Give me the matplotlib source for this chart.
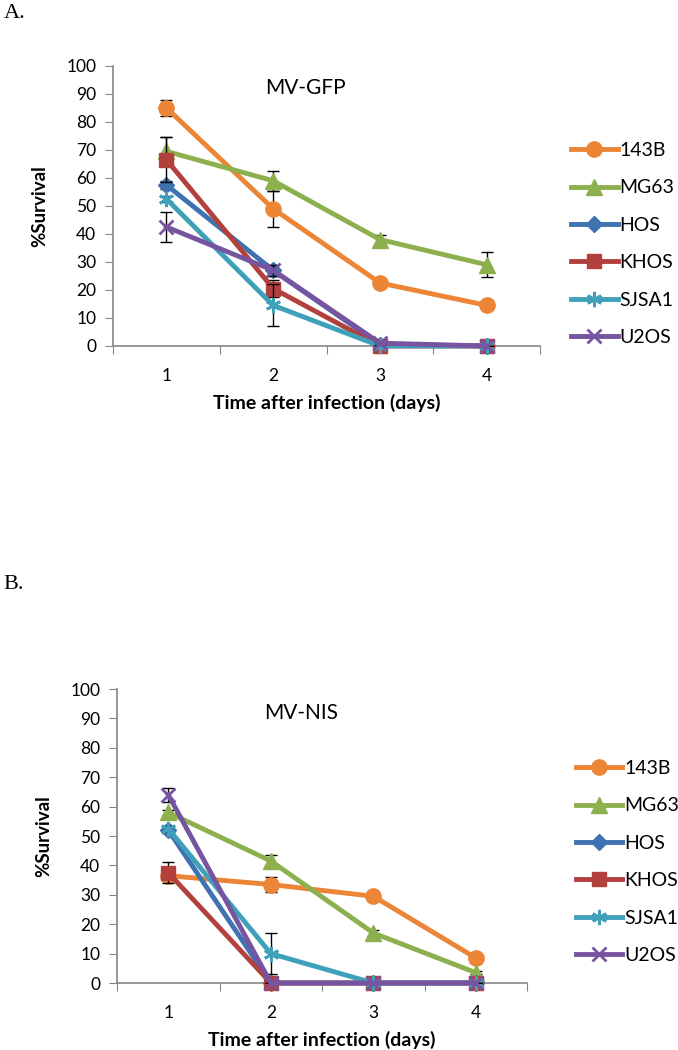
import matplotlib.pyplot as plt

plt.rcParams['font.family'] = ['Lato', 'DejaVu Sans']

days = [1, 2, 3, 4]
lines = ["143B", "MG63", "HOS", "KHOS", "SJSA1", "U2OS"]

# MV-GFP (panel A)
gfp_vals = {
    "143B": [85, 49, 22.5, 14.5],
    "MG63": [69.5, 59, 38, 29],
    "HOS": [57.5, 27, 0.5, 0],
    "KHOS": [66.5, 20.5, 0, 0],
    "SJSA1": [52.5, 14.5, 0, 0],
    "U2OS": [42.5, 27, 1, 0],
}
gfp_err = {
    "143B": [3, 6.5, 0.5, 0.5],
    "MG63": [5, 3.5, 1.5, 4.5],
    "HOS": [1.5, 2, 0.3, 0],
    "KHOS": [8, 3, 0, 0],
    "SJSA1": [1, 7.5, 0, 0],
    "U2OS": [5.5, 2, 0.5, 0],
}

# MV-NIS (panel B)
nis_vals = {
    "143B": [36.5, 33.5, 29.5, 8.5],
    "MG63": [58, 41.5, 17, 3.5],
    "HOS": [52, 0, 0, 0],
    "KHOS": [37.5, 0, 0, 0],
    "SJSA1": [52.5, 10, 0, 0],
    "U2OS": [64, 0, 0, 0],
}
nis_err = {
    "143B": [1, 2.5, 0.5, 0.5],
    "MG63": [1, 2, 1, 0.5],
    "HOS": [1, 0, 0, 0],
    "KHOS": [3.5, 0, 0, 0],
    "SJSA1": [1, 7, 0, 0],
    "U2OS": [2.5, 0, 0, 0],
}

colors = {
    "143B": "#EC8536",
    "MG63": "#8DB04E",
    "HOS": "#3F72B0",
    "KHOS": "#B2413E",
    "SJSA1": "#3FA0B9",
    "U2OS": "#7754A0",
}
markers = {
    "143B": ("o", 11, 1),
    "MG63": ("^", 11, 1),
    "HOS": ("D", 8.5, 1),
    "KHOS": ("s", 10, 1),
    "SJSA1": ((6, 2, 0), 11, 2),
    "U2OS": ("x", 10, 2),
}

axis_gray = "#868686"


def draw_panel(ax, vals, errs, title):
    for i, name in enumerate(lines):
        m, ms, mew = markers[name]
        ax.errorbar(days, vals[name], yerr=errs[name], fmt="none", ecolor="black",
                    elinewidth=1, capsize=4, capthick=1, zorder=2 + 2 * i)
        ax.plot(days, vals[name], color=colors[name], lw=3.5, marker=m, ms=ms,
                mew=mew, mec=colors[name], mfc=colors[name], label=name,
                zorder=3 + 2 * i, clip_on=False)
    ax.set_xlim(0.5, 4.5)
    ax.set_ylim(0, 100)
    ax.set_yticks(range(0, 101, 10))
    ax.set_xticks([0.5, 1.5, 2.5, 3.5, 4.5])
    ax.set_xticklabels([])
    ax.set_xticks(days, minor=True)
    ax.set_xticklabels([str(d) for d in days], minor=True)
    ax.tick_params(axis="x", which="minor", length=0, labelsize=12.5, pad=16)
    ax.tick_params(axis="x", which="major", length=6, color=axis_gray)
    ax.tick_params(axis="y", length=6, color=axis_gray, labelsize=12.5, pad=6)
    for s in ["top", "right"]:
        ax.spines[s].set_visible(False)
    for s in ["left", "bottom"]:
        ax.spines[s].set_color(axis_gray)
        ax.spines[s].set_linewidth(1.2)
    ax.spines["bottom"].set_zorder(1)
    ax.text(0.45, 0.92, title, transform=ax.transAxes, fontsize=15, ha="center", va="center")
    ax.set_xlabel("Time after infection (days)", fontsize=14, fontweight="bold", labelpad=7)
    ax.set_ylabel("%Survival", fontsize=13.5, fontweight="bold", labelpad=13)


fig = plt.figure(figsize=(6.78, 10.5), dpi=100)
ax_a = fig.add_axes([0.1667, 0.6705, 0.630, 0.2667])
ax_b = fig.add_axes([0.1726, 0.0638, 0.605, 0.2800])

draw_panel(ax_a, gfp_vals, gfp_err, "MV-GFP")
draw_panel(ax_b, nis_vals, nis_err, "MV-NIS")

for ax, x, y in [(ax_a, 0.842, 0.7676), (ax_b, 0.849, 0.179)]:
    h, l = ax.get_legend_handles_labels()
    fig.legend(h, l, loc="center left", bbox_to_anchor=(x, y), frameon=False,
               fontsize=14, handlelength=2.4, handletextpad=0.1, labelspacing=1.05,
               borderpad=0, borderaxespad=0)

fig.text(0.005, 0.996, "A.", family="Liberation Serif", fontsize=16, va="top")
fig.text(0.005, 0.452, "B.", family="Liberation Serif", fontsize=16, va="top")

fig.savefig("out.png", dpi=100)
